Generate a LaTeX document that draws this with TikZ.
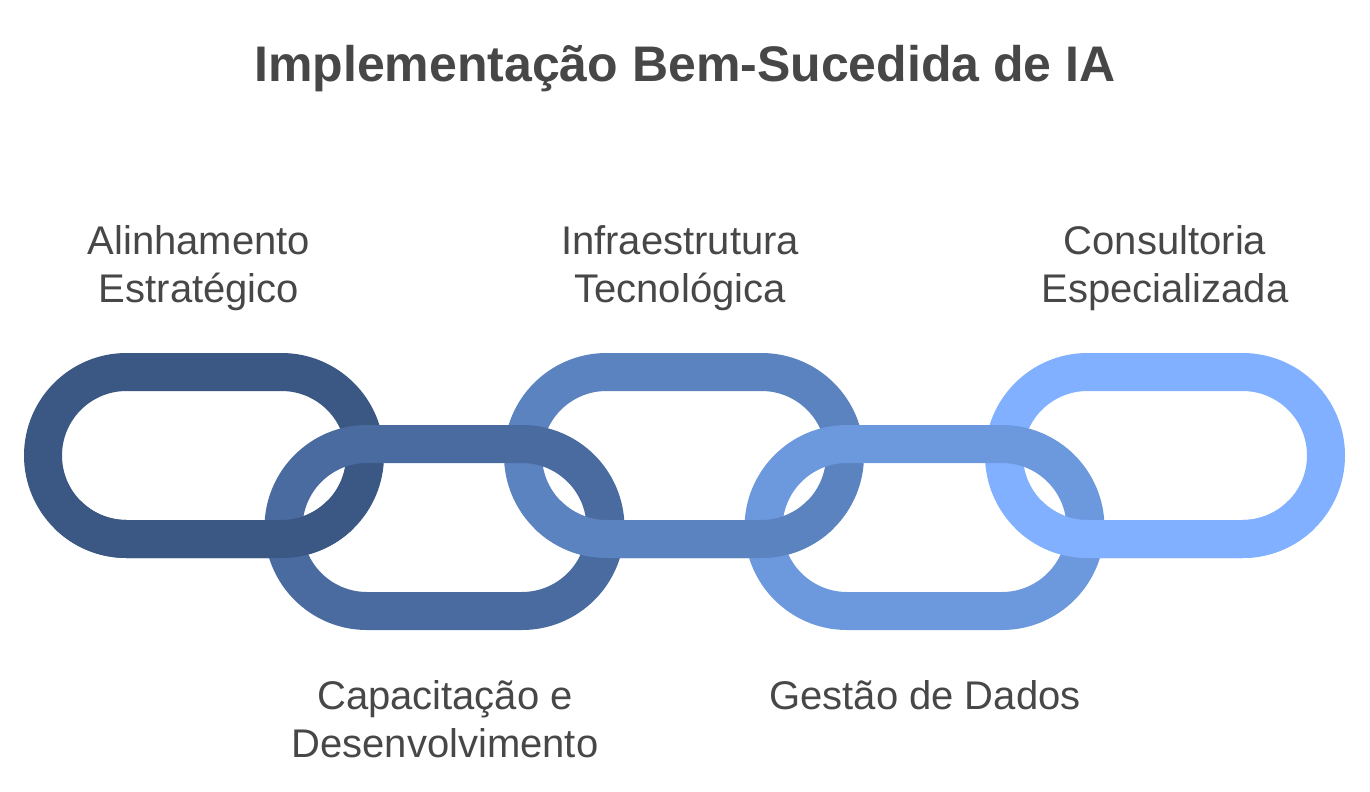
\documentclass[tikz,border=0pt]{standalone}
\usepackage{fontspec}
\setmainfont{Liberation Sans}
\definecolor{txt}{HTML}{474747}
\definecolor{linkA}{HTML}{3B5783}
\definecolor{linkB}{HTML}{4A6BA0}
\definecolor{linkC}{HTML}{5B83BF}
\definecolor{linkD}{HTML}{6C98DD}
\definecolor{linkE}{HTML}{80B0FF}
\newcommand{\chainlink}[3]{% cx, cy, color
  \draw[linkstroke, draw=#3] (#1-77.5,#2-83.5) -- (#1+77.5,#2-83.5)
    arc[start angle=270, end angle=450, radius=83.5]
    -- (#1-77.5,#2+83.5)
    arc[start angle=90, end angle=270, radius=83.5] -- cycle;}
\newcommand{\chainlower}[3]{% lower half of a top link, drawn over the next link
  \draw[linkstroke, line cap=butt, draw=#3] ($(#1+77.5,#2)+(45:83.5)$)
    arc[start angle=45, end angle=90, radius=83.5]
    -- (#1-77.5,#2+83.5)
    arc[start angle=90, end angle=135, radius=83.5];}
\usetikzlibrary{calc}
\begin{document}
\begin{tikzpicture}[x=0.75pt,y=-0.75pt,
  linkstroke/.style={line width=28.5pt, line join=round},
  label/.style={text=txt, font=\fontsize{30}{36}\selectfont, align=center, inner sep=0pt},
  titlestyle/.style={text=txt, font=\bfseries\fontsize{37.5}{45}\selectfont, inner sep=0pt}]
\useasboundingbox (0,0) rectangle (1370,792);
\node[titlestyle, anchor=base] (title) at (685,81) {Implementação Bem-Sucedida de IA};
% top links
\chainlink{204}{455.5}{linkA}
\chainlink{684}{455.5}{linkC}
\chainlink{1165}{455.5}{linkE}
% bottom links
\chainlink{444.5}{527.5}{linkB}
\chainlink{924.5}{527.5}{linkD}
% lower parts of top links pass over the bottom links
\chainlower{204}{455.5}{linkA}
\chainlower{684}{455.5}{linkC}
\chainlower{1165}{455.5}{linkE}
% labels (base = baseline of the last line)
\node[label, anchor=base] (l1) at (199,302) {Alinhamento\\Estratégico};
\node[label, anchor=base] (l3) at (680,302) {Infraestrutura\\Tecnológica};
\node[label, anchor=base] (l5) at (1165,302) {Consultoria\\Especializada};
\node[label, anchor=base] (l2) at (445,757) {Capacitação e\\Desenvolvimento};
\node[label, anchor=base] (l4) at (925,709) {Gestão de Dados};
\end{tikzpicture}
\end{document}
